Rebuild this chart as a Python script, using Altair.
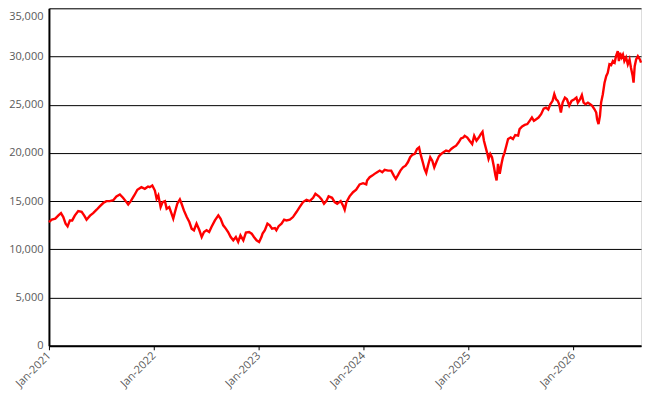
import altair as alt
import pandas as pd

# ---- data ----
dates_2021 = ["2021-01-01", "2021-01-11", "2021-01-23", "2021-02-03", "2021-02-12", "2021-02-20",
              "2021-02-28", "2021-03-07", "2021-03-15", "2021-03-23", "2021-04-01", "2021-04-13",
              "2021-04-25", "2021-05-04", "2021-05-12", "2021-05-24", "2021-06-04", "2021-06-16",
              "2021-06-27", "2021-07-09", "2021-07-20", "2021-08-01", "2021-08-13", "2021-08-24",
              "2021-09-05", "2021-09-16", "2021-09-28", "2021-10-04", "2021-10-13", "2021-10-25",
              "2021-11-05", "2021-11-19", "2021-12-01", "2021-12-12", "2021-12-18", "2021-12-27"]
values_2021 = [12830, 13080, 13180, 13520, 13760, 13350,
               12670, 12390, 13000, 13000, 13500, 13970,
               13900, 13500, 13080, 13500, 13760, 14110,
               14450, 14800, 15000, 15000, 15100, 15490,
               15700, 15350, 14900, 14660, 15000, 15590,
               16180, 16450, 16280, 16520, 16450, 16620]

dates_2022 = ["2022-01-05", "2022-01-11", "2022-01-17", "2022-01-25", "2022-02-01", "2022-02-09",
              "2022-02-15", "2022-02-24", "2022-03-04", "2022-03-10", "2022-03-16", "2022-03-24",
              "2022-04-02", "2022-04-08", "2022-04-16", "2022-04-26", "2022-05-05", "2022-05-13",
              "2022-05-21", "2022-05-30", "2022-06-09", "2022-06-17", "2022-06-25", "2022-07-04",
              "2022-07-13", "2022-07-21", "2022-08-02", "2022-08-14", "2022-08-22", "2022-08-31",
              "2022-09-09", "2022-09-17", "2022-09-26", "2022-10-05", "2022-10-14", "2022-10-22",
              "2022-10-30", "2022-11-09", "2022-11-18", "2022-11-29", "2022-12-08", "2022-12-16",
              "2022-12-25"]
values_2022 = [16100, 15250, 15600, 14380, 14900, 15000,
               14200, 14380, 13700, 13180, 13870, 14730,
               15180, 14730, 14040, 13350, 12830, 12150,
               11980, 12670, 11980, 11280, 11800, 11980,
               11800, 12320, 13000, 13520, 13180, 12490,
               12150, 11800, 11280, 10940, 11280, 10770,
               11460, 10940, 11740, 11800, 11630, 11280,
               10940]

dates_2023 = ["2023-01-03", "2023-01-11", "2023-01-15", "2023-01-23", "2023-02-01", "2023-02-09",
              "2023-02-17", "2023-02-27", "2023-03-04", "2023-03-12", "2023-03-22", "2023-03-31",
              "2023-04-08", "2023-04-20", "2023-05-01", "2023-05-13", "2023-05-24", "2023-06-05",
              "2023-06-17", "2023-06-28", "2023-07-10", "2023-07-18", "2023-07-30", "2023-08-08",
              "2023-08-17", "2023-08-25", "2023-09-02", "2023-09-14", "2023-09-23", "2023-10-02",
              "2023-10-14", "2023-10-22", "2023-10-28", "2023-11-03", "2023-11-14", "2023-11-26",
              "2023-12-07", "2023-12-19", "2023-12-31"]
values_2023 = [10770, 11280, 11630, 11980, 12670, 12500,
               12150, 12200, 11980, 12400, 12670, 13080,
               13000, 13080, 13350, 13870, 14380, 14900,
               15140, 15000, 15350, 15760, 15500, 15200,
               14730, 15000, 15500, 15350, 14900, 14730,
               15000, 14560, 14110, 14900, 15500, 15930,
               16180, 16730, 16860]

dates_2024 = ["2024-01-11", "2024-01-14", "2024-01-23", "2024-02-01", "2024-02-09", "2024-02-18",
              "2024-02-27", "2024-03-07", "2024-03-15", "2024-03-27", "2024-04-07", "2024-04-16",
              "2024-04-23", "2024-05-01", "2024-05-09", "2024-05-18", "2024-05-27", "2024-06-04",
              "2024-06-12", "2024-06-19", "2024-06-28", "2024-07-06", "2024-07-13", "2024-07-18",
              "2024-07-26", "2024-08-01", "2024-08-07", "2024-08-13", "2024-08-21", "2024-08-28",
              "2024-09-04", "2024-09-11", "2024-09-20", "2024-09-28", "2024-10-06", "2024-10-15",
              "2024-10-25", "2024-11-02", "2024-11-10", "2024-11-19", "2024-11-28", "2024-12-06",
              "2024-12-14", "2024-12-19", "2024-12-28"]
values_2024 = [16730, 17140, 17480, 17650, 17830, 18000,
               18170, 18000, 18240, 18170, 18170, 17650,
               17310, 17720, 18170, 18510, 18680, 19030,
               19550, 19790, 19900, 20410, 20580, 19900,
               19030, 18340, 17930, 18680, 19550, 19200,
               18510, 19030, 19650, 19900, 20060, 20240,
               20150, 20410, 20580, 20750, 21100, 21500,
               21600, 21780, 21600]

dates_2025 = ["2025-01-05", "2025-01-14", "2025-01-21", "2025-01-29", "2025-02-06", "2025-02-13",
              "2025-02-19", "2025-02-24", "2025-03-02", "2025-03-08", "2025-03-12", "2025-03-18",
              "2025-03-24", "2025-03-31", "2025-04-05", "2025-04-09", "2025-04-14", "2025-04-20",
              "2025-04-26", "2025-05-01", "2025-05-07", "2025-05-13", "2025-05-19", "2025-05-28",
              "2025-06-05", "2025-06-13", "2025-06-23", "2025-06-28", "2025-07-07", "2025-07-16",
              "2025-07-25", "2025-08-02", "2025-08-10", "2025-08-17", "2025-08-25", "2025-09-02",
              "2025-09-11", "2025-09-20", "2025-09-28", "2025-10-06", "2025-10-13", "2025-10-21",
              "2025-10-27", "2025-11-02", "2025-11-08", "2025-11-13", "2025-11-19", "2025-11-25",
              "2025-12-03", "2025-12-10", "2025-12-18", "2025-12-26"]
values_2025 = [21270, 20930, 21780, 21270, 21600, 21960,
               22200, 21270, 20580, 19890, 19380, 19890,
               19550, 18510, 17650, 17140, 18860, 17830,
               18860, 19550, 20060, 20750, 21440, 21600,
               21440, 21860, 21800, 22470, 22750, 22900,
               22990, 23330, 23670, 23330, 23500, 23670,
               24020, 24600, 24700, 24500, 25050, 25400,
               26090, 25570, 25400, 25050, 24190, 25220,
               25740, 25570, 24900, 25400]

dates_2026 = ["2026-01-05", "2026-01-12", "2026-01-17", "2026-01-25", "2026-01-31", "2026-02-06",
              "2026-02-13", "2026-02-21", "2026-03-01", "2026-03-08", "2026-03-16", "2026-03-22",
              "2026-03-25", "2026-03-30", "2026-04-04", "2026-04-08", "2026-04-14", "2026-04-20",
              "2026-04-26", "2026-05-01", "2026-05-07", "2026-05-13", "2026-05-19", "2026-05-25",
              "2026-05-30", "2026-06-05", "2026-06-09", "2026-06-13", "2026-06-18", "2026-06-23",
              "2026-06-28", "2026-07-04", "2026-07-10", "2026-07-16", "2026-07-21", "2026-07-27",
              "2026-07-30", "2026-08-03", "2026-08-08", "2026-08-14", "2026-08-21", "2026-08-25"]
values_2026 = [25570, 25740, 25220, 25570, 26000, 25220,
               25050, 25220, 25050, 24880, 24530, 24190,
               23500, 22990, 23850, 25220, 26090, 27290,
               27980, 28300, 29190, 29100, 29530, 29360,
               30040, 30560, 29530, 30390, 29900, 30200,
               29530, 29900, 29190, 29700, 28840, 27980,
               27290, 29000, 29700, 30040, 29700, 29360]

y_ticks = [0, 5000, 10000, 15000, 20000, 25000, 30000, 35000]
x_tick_years = [2021, 2022, 2023, 2024, 2025, 2026]

dates = dates_2021 + dates_2022 + dates_2023 + dates_2024 + dates_2025 + dates_2026
values = values_2021 + values_2022 + values_2023 + values_2024 + values_2025 + values_2026
df = pd.DataFrame({"date": dates, "value": values})

FONT = "Open Sans"
LABEL_COLOR = "#595959"

x_enc = alt.X(
    "date:T",
    scale=alt.Scale(
        type="utc",
        domain=[alt.DateTime(year=2021, month=1, date=1, utc=True),
                alt.DateTime(year=2026, month=8, date=25, utc=True)],
        nice=False,
    ),
    axis=alt.Axis(
        title=None,
        values=[alt.DateTime(year=y, month=1, date=1, utc=True) for y in x_tick_years],
        labelExpr="utcFormat(datum.value, '%b-%Y')",
        labelAngle=-45,
        labelAlign="right",
        labelBaseline="middle",
        labelFont=FONT,
        labelFontSize=11,
        labelColor=LABEL_COLOR,
        grid=False,
        domainColor="#000000",
        domainWidth=2,
        tickColor="#000000",
        tickSize=4,
        tickWidth=1,
        labelPadding=4,
    ),
)

y_enc = alt.Y(
    "value:Q",
    scale=alt.Scale(domain=[0, 35000], nice=False),
    axis=alt.Axis(
        title=None,
        values=y_ticks,
        format=",d",
        labelFont=FONT,
        labelFontSize=11,
        labelColor=LABEL_COLOR,
        labelBaseline={"condition": {"test": "datum.value === 35000", "value": "top"},
                       "value": "middle"},
        labelOffset={"condition": {"test": "datum.value === 35000", "value": 2},
                     "value": 0},
        grid=True,
        gridColor="#000000",
        gridWidth=1,
        gridOpacity=1,
        domainColor="#000000",
        domainWidth=2,
        ticks=False,
        labelPadding=6,
    ),
)

chart = (
    alt.Chart(df)
    .mark_line(color="#FF0000", strokeWidth=2.4, strokeJoin="miter")
    .encode(x=x_enc, y=y_enc)
    .properties(
        width=593,
        height=338,
        autosize=alt.AutoSizeParams(type="none"),
        padding={"left": 41, "top": 0, "right": 12, "bottom": 55},
    )
    .configure_view(stroke="#888888", strokeWidth=2)
    .configure(background="#FFFFFF")
)

chart.save("out.html", embed_options={"renderer": "svg", "actions": False})
